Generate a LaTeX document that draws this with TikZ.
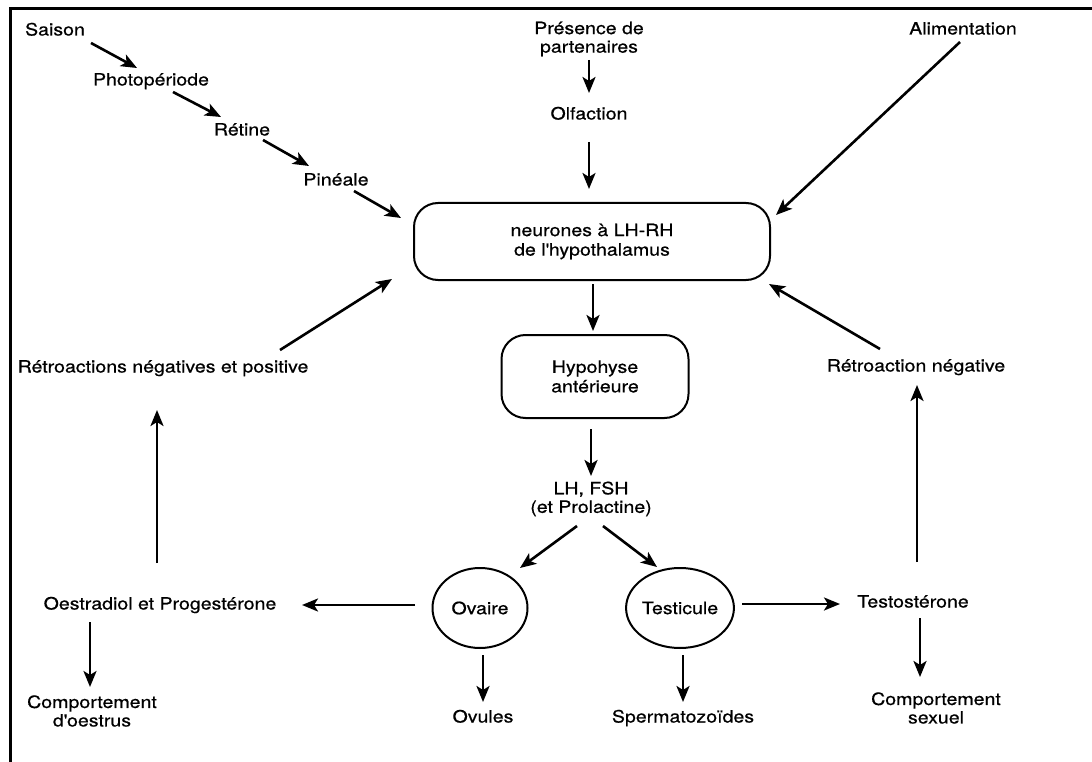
\documentclass[tikz,border=0pt]{standalone}
\usepackage{fontspec}
\setmainfont{TeX Gyre Heros}[FakeStretch=1.15,FakeBold=0.6]
\usetikzlibrary{arrows.meta,calc,shapes.geometric}
\begin{document}
\begin{tikzpicture}[x=1pt,y=-1pt,
  lbl/.style={inner sep=0pt, font=\fontsize{17}{18.5}\selectfont, text height=12.5pt, text depth=3.5pt},
  lbl2/.style={inner sep=0pt, font=\fontsize{17}{18.5}\selectfont, align=center},
  arr/.style={-{Stealth[length=16pt,width=13pt,inset=4pt]}, line width=2.6pt},
  rbox/.style={draw, line width=2pt, rounded corners=24pt, inner sep=0pt, align=center, font=\fontsize{17}{19.5}\selectfont},
  oval/.style={draw, ellipse, line width=2pt, inner sep=0pt, font=\fontsize{17}{18.5}\selectfont}]
\useasboundingbox (0,0) rectangle (1092,762);
\fill[white] (0,0) rectangle (1092,762);
\draw[line width=3pt] (10,762) -- (10,9) -- (1092,9);

% nodes
\node[lbl] (saison) at (55,31) {Saison};
\node[lbl] (photo) at (151,81) {Photopériode};
\node[lbl] (retine) at (242,131) {Rétine};
\node[lbl] (pineale) at (336,181) {Pinéale};
\node[lbl2] (presence) at (589,39) {Présence de\\partenaires};
\node[lbl] (olfaction) at (589,115) {Olfaction};
\node[lbl] (alim) at (963,30) {Alimentation};
\node[rbox, minimum width=356pt, minimum height=77pt] (hypo) at (592,241.5) {neurones à LH-RH\\de l\textquotesingle hypothalamus};
\node[lbl] (retroL) at (163,368) {Rétroactions négatives et positive};
\node[lbl] (retroR) at (916,367) {Rétroaction négative};
\node[rbox, minimum width=187pt, minimum height=83pt] (hypophyse) at (595,376.5) {Hypohyse\\antérieure};
\node[lbl2] (lhfsh) at (591,499) {LH, FSH\\(et Prolactine)};
\node[oval, minimum width=95pt, minimum height=80pt] (ovaire) at (480,608) {Ovaire};
\node[oval, minimum width=100pt, minimum height=80pt] (testicule) at (680,608) {Testicule};
\node[lbl] (oestradiol) at (160,605) {Oestradiol et Progestérone};
\node[lbl2] (comportO) at (92,711) {Comportement\\d\textquotesingle oestrus};
\node[lbl] (ovules) at (483,718) {Ovules};
\node[lbl] (sperma) at (683,718) {Spermatozoïdes};
\node[lbl] (testo) at (913,603) {Testostérone};
\node[lbl2] (comportS) at (936,708) {Comportement\\sexuel};

% connectors
\draw[arr] ($(saison)+(36,12)$) -- ($(photo)+(-14,-13)$);
\draw[arr] ($(photo)+(22,11)$) -- ($(retine)+(-21,-14)$);
\draw[arr] ($(retine)+(21,9)$) -- ($(pineale)+(-27,-15)$);
\draw[arr] ($(pineale)+(18,10)$) -- ($(hypo.west)+(-12,-23.5)$);
\draw[arr] ($(presence)+(0,21)$) -- ($(olfaction)+(0,-22)$);
\draw[arr] ($(olfaction)+(0,27)$) -- ($(hypo.north)+(-3,-13)$);
\draw[arr] ($(alim)+(-3,12)$) -- ($(hypo.east)+(5,-26.5)$);
\draw[arr] ($(retroR)+(-36,-18)$) -- ($(hypo.south east)+(-2,3)$);
\draw[arr] ($(retroL)+(117,-18)$) -- ($(hypo.south west)+(-21,-2)$);
\draw[arr] ($(hypo.south)+(1,3)$) -- ($(hypophyse.north)+(-2,-3)$);
\draw[arr] ($(hypophyse.south)+(-4,10)$) -- ($(lhfsh)+(0,-23)$);
\draw[arr] ($(lhfsh)+(-14,27)$) -- ($(ovaire)+(40,-40)$);
\draw[arr] ($(lhfsh)+(12,27)$) -- ($(testicule)+(-23,-41)$);
\draw[arr] ($(ovaire)+(-65,-3)$) -- ($(oestradiol)+(142,0)$);
\draw[arr] ($(oestradiol)+(-70,17)$) -- ($(comportO)+(-2,-24)$);
\draw[arr] ($(oestradiol)+(-3,-42)$) -- ($(retroL)+(-6,42)$);
\draw[arr] ($(ovaire)+(3,47)$) -- ($(ovules)+(0,-16)$);
\draw[arr] ($(testicule)+(3,47)$) -- ($(sperma)+(0,-16)$);
\draw[arr] ($(testicule)+(62,-4)$) -- ($(testo)+(-73,1)$);
\draw[arr] ($(testo)+(4,-41)$) -- ($(retroR)+(1,18)$);
\draw[arr] ($(testo)+(7,15)$) -- ($(comportS)+(-16,-31)$);
\end{tikzpicture}
\end{document}
